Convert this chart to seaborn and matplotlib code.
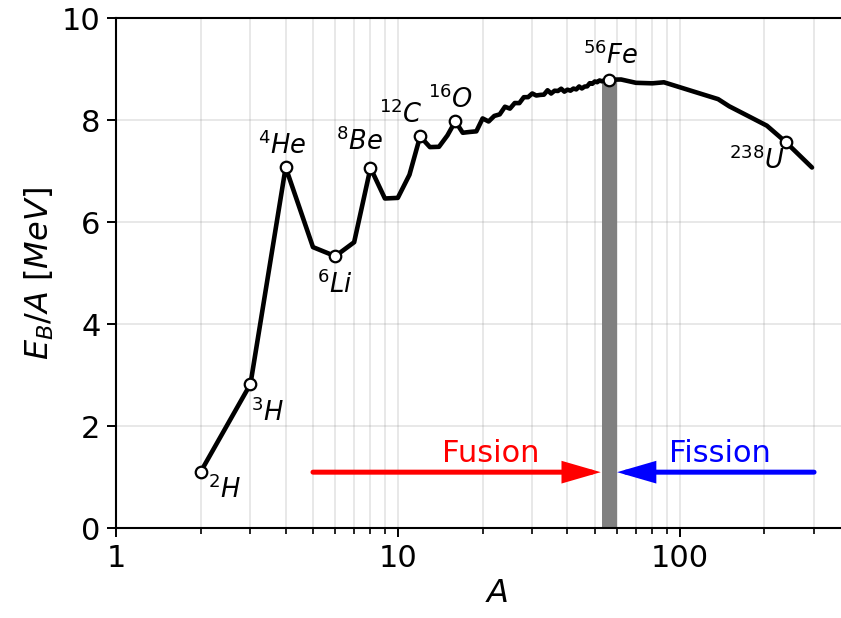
import numpy as np
import pandas as pd
import matplotlib
matplotlib.use("Agg")
import matplotlib.pyplot as plt
import matplotlib.ticker as mticker
import seaborn as sns

# ---- data ----
A_curve = [2, 3, 4, 5, 6, 7, 8, 9, 10, 11, 12, 13, 14, 15, 16, 17, 18, 19, 20,
           21, 22, 23, 24, 25, 26, 27, 28, 29, 30, 31, 32, 33, 34, 35, 36, 37,
           38, 39, 40, 41, 42, 43, 44, 45, 46, 47, 48, 49, 50, 51, 52, 53, 54,
           55, 56, 58, 62, 70, 80, 88, 112, 137, 150, 175, 204, 238, 295]
E_curve = [1.112, 2.827, 7.074, 5.51, 5.332, 5.606, 7.062, 6.463, 6.475, 6.928,
           7.680, 7.470, 7.476, 7.699, 7.976, 7.751, 7.767, 7.779, 8.032, 7.972,
           8.081, 8.112, 8.261, 8.224, 8.334, 8.332, 8.448, 8.449, 8.521, 8.481,
           8.493, 8.498, 8.584, 8.520, 8.575, 8.570, 8.614, 8.557, 8.595, 8.576,
           8.617, 8.601, 8.658, 8.619, 8.656, 8.661, 8.723, 8.711, 8.756, 8.742,
           8.776, 8.760, 8.778, 8.765, 8.790, 8.792, 8.795, 8.73, 8.72, 8.74,
           8.56, 8.41, 8.27, 8.08, 7.89, 7.57, 7.07]

iso_A = [2, 3, 4, 6, 8, 12, 16, 56, 238]
iso_E = [1.112, 2.827, 7.074, 5.332, 7.062, 7.680, 7.976, 8.790, 7.570]
iso_labels = ['$^{2}H$', '$^{3}H$', '$^{4}He$', '$^{6}Li$', '$^{8}Be$',
              '$^{12}C$', '$^{16}O$', '$^{56}Fe$', '$^{238}U$']
# label offsets in pixels (right, up)
iso_dx = [24, 17, -3, 0, -11, -19, -5, 2, -29]
iso_dy = [-18, -29, 22, -29, 26, 22, 22, 24, -19]

fe_A, fe_E = 56, 8.790
fusion_from, fusion_to = 5, 52.5
fission_from, fission_to = 300, 60
arrow_E = 1.10

xticks = [1, 10, 100]
xticklabels = ['1', '10', '100']
yticks = [0, 2, 4, 6, 8, 10]

# ---- style ----
sns.set_style("ticks")
plt.rcParams['font.family'] = ['DejaVu Sans']
plt.rcParams['mathtext.fontset'] = 'dejavusans'
for k in ['text.color', 'axes.labelcolor', 'xtick.color', 'ytick.color', 'axes.edgecolor']:
    plt.rcParams[k] = 'black'

DPI = 100
W, H = 841, 618
fig = plt.figure(figsize=(W / DPI, H / DPI), dpi=DPI)
px = 72.0 / DPI  # points per pixel

x0, x1 = 1, 500
dec_px = 281.8
ax_left, ax_top, ax_bot = 116, 18, 528.3
ax_w = np.log10(x1 / x0) * dec_px
ax = fig.add_axes([ax_left / W, (H - ax_bot) / H, ax_w / W, (ax_bot - ax_top) / H])
ax.set_xscale('log')
ax.set_xlim(x0, x1)
ax.set_ylim(0, 10)

# grid
ax.set_axisbelow(True)
ax.grid(True, which='both', axis='x', color='0.5', alpha=0.2, lw=1.3)
ax.grid(True, which='major', axis='y', color='0.5', alpha=0.2, lw=1.3)

# gray Fe band
ax.vlines(fe_A, 0, fe_E, colors='gray', lw=15 * px, zorder=2)

# curve
df = pd.DataFrame({'A': A_curve, 'E': E_curve})
sns.lineplot(data=df, x='A', y='E', ax=ax, color='k', lw=3.3, sort=False,
             estimator=None, zorder=3)

# isotope markers
sns.scatterplot(x=iso_A, y=iso_E, ax=ax, s=8.3 ** 2, facecolor='white',
                edgecolor='k', linewidth=1.6, zorder=5)

for a, e, lab, dx, dy in zip(iso_A, iso_E, iso_labels, iso_dx, iso_dy):
    ax.annotate(lab, (a, e), xytext=(dx * px, dy * px), textcoords='offset points',
                ha='center', va='center', fontsize=18.5, zorder=6)

# arrows
for (x_from, x_to, col) in [(fusion_from, fusion_to, 'red'),
                            (fission_from, fission_to, 'blue')]:
    ax.annotate('', xy=(x_to, arrow_E), xytext=(x_from, arrow_E),
                arrowprops=dict(arrowstyle='-|>,head_length=20,head_width=5.8',
                                mutation_scale=1, color=col, lw=3.6,
                                shrinkA=0, shrinkB=0, joinstyle='miter'))
ax.text(21.3, 1.47, 'Fusion', color='red', fontsize=22, ha='center', va='center')
ax.text(139, 1.47, 'Fission', color='blue', fontsize=22, ha='center', va='center')

# ticks
ax.set_xticks(xticks)
ax.set_xticklabels(xticklabels)
ax.xaxis.set_minor_locator(mticker.LogLocator(base=10, subs=np.arange(2, 10)))
ax.xaxis.set_minor_formatter(mticker.NullFormatter())
ax.set_yticks(yticks)
ax.tick_params(axis='both', which='major', labelsize=22, length=6.2, width=1.4,
               direction='out', pad=5, color='k', labelcolor='k')
ax.tick_params(axis='x', which='minor', length=4, width=1.2, direction='out', color='k')
for s in ax.spines.values():
    s.set_linewidth(1.5)
    s.set_color('k')

ax.set_xlabel('$A$', fontsize=23)
ax.set_ylabel('$E_B/A$ $[MeV]$', fontsize=23)

fig.savefig('out.png', dpi=DPI)
